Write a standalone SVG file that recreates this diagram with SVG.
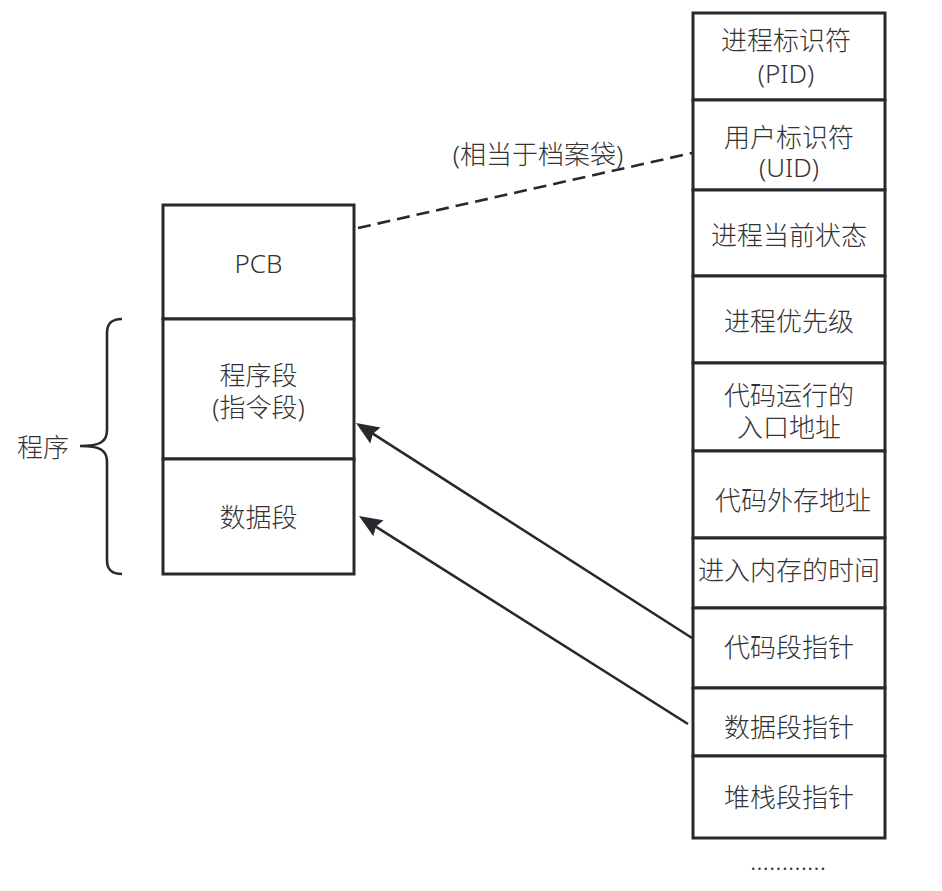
<svg xmlns="http://www.w3.org/2000/svg" width="942" height="891" viewBox="0 0 942 891">
<defs>
<style>
.box{fill:#ffffff;stroke:#262a2f;stroke-width:3}
.t{font-family:"Noto Sans","Noto Sans CJK SC",sans-serif;font-size:26px;font-weight:300;fill:#333333;text-anchor:middle}
.ln{fill:none;stroke:#262a2f;stroke-width:2.6}
</style>
<marker id="arr" markerUnits="userSpaceOnUse" viewBox="-26 -11 30 22" refX="-18" refY="0" markerWidth="30" markerHeight="22" orient="auto" overflow="visible">
<path d="M0,0 L-23,-9.5 L-20,0 L-23,9.5 Z" fill="#262a2f"/>
</marker>
</defs>
<rect width="942" height="891" fill="#ffffff"/>

<g id="connectors">
<line class="ln" x1="358" y1="228" x2="692" y2="153" stroke-dasharray="13 7" stroke-width="3"/>
<line class="ln" x1="692" y1="638" x2="371.2" y2="432.7" marker-end="url(#arr)"/>
<line class="ln" x1="688" y1="724" x2="374.2" y2="525.6" marker-end="url(#arr)"/>
<path class="ln" d="M122,319 C112,319 107,323 107,333 L107,430 C107,442 100,446 80,446 C100,446 107,450 107,462 L107,560 C107,570 112,574 122,574"/>
</g>

<g id="label-archive"><text class="t" x="538" y="163.5">(相当于档案袋)</text></g>
<g id="label-program"><text class="t" x="43" y="457">程序</text></g>

<g id="pcb"><rect class="box" x="163" y="205" width="191" height="114"/><text class="t" x="258.5" y="273">PCB</text></g>
<g id="code-seg"><rect class="box" x="163" y="319" width="191" height="140"/><text class="t"><tspan x="258.5" y="384.5">程序段</tspan><tspan x="258.5" y="416.5">(指令段)</tspan></text></g>
<g id="data-seg"><rect class="box" x="163" y="459" width="191" height="115"/><text class="t" x="258.5" y="526.5">数据段</text></g>

<g id="pid"><rect class="box" x="693" y="13" width="192" height="87"/><text class="t"><tspan x="786" y="50">进程标识符</tspan><tspan x="786" y="83">(PID)</tspan></text></g>
<g id="uid"><rect class="box" x="693" y="100" width="192" height="90"/><text class="t"><tspan x="789" y="147">用户标识符</tspan><tspan x="789" y="177">(UID)</tspan></text></g>
<g id="state"><rect class="box" x="693" y="190" width="192" height="86"/><text class="t" x="789" y="245">进程当前状态</text></g>
<g id="priority"><rect class="box" x="693" y="276" width="192" height="87"/><text class="t" x="789" y="330.5">进程优先级</text></g>
<g id="entry"><rect class="box" x="693" y="363" width="192" height="88"/><text class="t"><tspan x="789" y="405">代码运行的</tspan><tspan x="789" y="437">入口地址</tspan></text></g>
<g id="ext-addr"><rect class="box" x="693" y="451" width="192" height="87"/><text class="t" x="793" y="509.5">代码外存地址</text></g>
<g id="load-time"><rect class="box" x="693" y="538" width="192" height="70"/><text class="t" x="789" y="580">进入内存的时间</text></g>
<g id="code-ptr"><rect class="box" x="693" y="608" width="192" height="80"/><text class="t" x="789" y="657">代码段指针</text></g>
<g id="data-ptr"><rect class="box" x="693" y="688" width="192" height="68"/><text class="t" x="789" y="736.5">数据段指针</text></g>
<g id="stack-ptr"><rect class="box" x="693" y="756" width="192" height="82"/><text class="t" x="789" y="807">堆栈段指针</text></g>
<g id="more"><text class="t" x="788" y="870">............</text></g>
</svg>
